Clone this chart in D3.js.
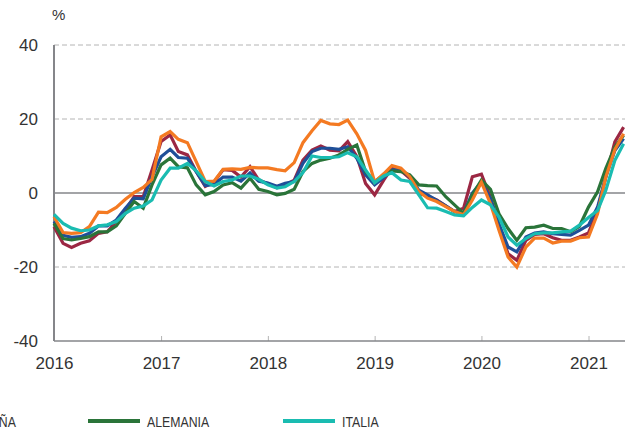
<!DOCTYPE html>
<html>
<head>
<meta charset="utf-8">
<script src="https://cdn.jsdelivr.net/npm/d3@7"></script>
<style>
  body { margin: 0; background: #fff; }
  svg { display: block; }
  text { font-family: "Liberation Sans", Arial, sans-serif; fill: #333; }
</style>
</head>
<body>
<script>
// monthly values, Jan 2016 .. May 2021 (%)
var espana = [-6.4, -10.7, -10.9, -10.7, -9.1, -5.2, -5.3, -3.9, -1.7, 0.1, 1.5, 3.7,
  15.2, 16.6, 14.5, 13.6, 8.5, 3.1, 3.2, 6.4, 6.5, 6.4, 6.9, 6.8,
  6.8, 6.3, 6.0, 8.2, 13.6, 16.8, 19.6, 18.7, 18.5, 19.7, 16.0, 11.5,
  3.0, 5.2, 7.4, 6.7, 4.4, 0.4, -1.4, -2.3, -3.7, -5.0, -5.9, -1.9,
  2.9, -2.9, -10.1, -17.3, -20.0, -14.6, -12.2, -12.2, -13.5, -13.0, -13.0, -12.1,
  -11.9, -5.6, 4.3, 11.7, 16.0];
var alemania = [-8.2, -12.3, -12.7, -12.3, -11.8, -10.5, -10.5, -8.9, -5.5, -2.3, -4.1, 2.2,
  7.6, 9.4, 7.1, 6.8, 2.2, -0.5, 0.4, 2.2, 2.8, 1.3, 4.0, 1.0,
  0.4, -0.5, -0.1, 1.0, 5.8, 8.0, 8.9, 9.4, 10.3, 11.8, 13.0, 5.8,
  3.1, 4.9, 6.0, 5.8, 4.9, 2.2, 2.0, 1.9, -1.0, -3.2, -5.5, -0.5,
  3.5, 1.0, -5.6, -9.6, -12.8, -9.4, -9.2, -8.7, -9.6, -9.6, -10.5, -9.0,
  -3.8, 0.3, 6.6, 12.4, 15.6];
var italia = [-5.8, -8.2, -9.5, -10.2, -10.0, -8.9, -8.6, -7.7, -5.5, -4.1, -3.5, -1.9,
  3.5, 6.7, 6.7, 8.0, 6.0, 3.1, 1.9, 3.1, 3.5, 4.6, 4.6, 3.7,
  2.2, 1.3, 1.7, 3.1, 5.5, 10.0, 9.6, 9.6, 9.8, 10.9, 9.8, 6.2,
  2.8, 4.6, 5.5, 3.5, 3.1, -0.5, -4.0, -4.1, -5.0, -5.9, -6.2, -3.9,
  -1.9, -3.2, -6.5, -11.9, -14.1, -12.3, -11.0, -10.8, -10.8, -10.5, -10.3, -8.7,
  -6.6, -4.7, 0.7, 8.8, 13.3];
var francia = [-7.7, -11.4, -12.0, -11.8, -10.9, -8.9, -8.9, -7.3, -4.1, -1.4, -1.6, 4.4,
  9.8, 11.8, 9.6, 9.4, 5.8, 2.0, 2.3, 4.3, 4.3, 3.2, 5.4, 3.2,
  2.7, 1.8, 2.6, 3.1, 8.0, 11.2, 12.1, 12.1, 11.8, 12.5, 9.4, 4.9,
  2.2, 4.2, 6.2, 6.4, 4.4, 0.8, -0.5, -2.0, -3.5, -5.0, -5.5, 0.0,
  3.0, -1.5, -8.3, -14.6, -15.9, -11.9, -10.8, -10.5, -11.0, -11.2, -11.4, -10.1,
  -8.7, -3.8, 4.3, 11.5, 14.7];
var zonaEuro = [-9.1, -13.6, -14.7, -13.6, -12.9, -10.9, -10.5, -7.7, -4.6, -1.0, -1.0, 6.2,
  13.9, 15.7, 11.2, 10.3, 5.8, 1.8, 3.0, 6.3, 6.1, 4.3, 7.1, 3.5,
  2.5, 1.4, 2.2, 3.5, 8.9, 11.6, 12.7, 11.6, 11.4, 13.9, 9.9, 2.6,
  -0.5, 3.5, 6.7, 6.0, 4.0, -0.1, -0.8, -1.9, -3.5, -5.0, -4.1, 4.4,
  5.1, -1.2, -9.2, -16.4, -18.2, -12.8, -11.2, -11.0, -12.1, -12.8, -12.8, -11.9,
  -10.8, -4.7, 4.3, 13.8, 17.8];

var years = [2016, 2017, 2018, 2019, 2020, 2021];
var yTicks = [-40, -20, 0, 20, 40];

var months = d3.timeMonth.range(new Date(2016, 0, 1), new Date(2021, 5, 1));

var series = [
  {name: "ZONA DEL EURO", values: zonaEuro, color: "#9b2743"},
  {name: "FRANCIA", values: francia, color: "#1f4f98"},
  {name: "ALEMANIA", values: alemania, color: "#2a7439"},
  {name: "ESPAÑA", values: espana, color: "#f47a22"},
  {name: "ITALIA", values: italia, color: "#1abcb1"}
];
var legendOrder = ["ESPAÑA", "ALEMANIA", "ITALIA", "FRANCIA", "ZONA DEL EURO"];

var W = 625, H = 432;
var plotLeft = 54, plotTop = 45, plotBottom = 341;

var svg = d3.select("body").append("svg")
    .attr("width", W)
    .attr("height", H);

var x = d3.scaleTime()
    .domain([new Date(2016, 0, 1), new Date(2021, 0, 1)])
    .range([plotLeft, plotLeft + 5 * 106.9]);
var y = d3.scaleLinear().domain([-40, 40]).range([plotBottom, plotTop]);

// grid
svg.append("g").selectAll("line")
  .data(yTicks.filter(function(d){ return d != -40; }))
  .join("line")
    .attr("x1", plotLeft).attr("x2", W)
    .attr("y1", function(d){ return y(d); })
    .attr("y2", function(d){ return y(d); })
    .attr("stroke", function(d){ return d == 0 ? "#85868a" : "#b4b4b4"; })
    .attr("stroke-width", function(d){ return d == 0 ? 1.6 : 1; })
    .attr("stroke-dasharray", function(d){ return d == 0 ? null : "5,3"; });

// y labels
svg.append("g").selectAll("text")
  .data(yTicks)
  .join("text")
    .attr("x", 38)
    .attr("y", function(d){ return y(d) + 6; })
    .attr("text-anchor", "end")
    .style("font-size", "17px")
    .text(function(d){ return d; });

svg.append("text")
    .attr("x", 52).attr("y", 20)
    .style("font-size", "15px")
    .text("%");

// x axis
var xAxis = d3.axisBottom(x)
    .tickValues(years.map(function(d){ return new Date(d, 0, 1); }))
    .tickFormat(d3.timeFormat("%Y"))
    .tickSize(-5)
    .tickPadding(16);
var gx = svg.append("g")
    .attr("transform", "translate(0," + plotBottom + ")")
    .call(xAxis);
gx.select(".domain").remove();
gx.selectAll(".tick line").attr("stroke", "#b4b4b4");
gx.selectAll(".tick text")
    .style("font-size", "17px")
    .style("font-family", "Liberation Sans, Arial, sans-serif")
    .attr("fill", "#333");
svg.append("line")
    .attr("x1", plotLeft).attr("x2", W)
    .attr("y1", plotBottom).attr("y2", plotBottom)
    .attr("stroke", "#85868a").attr("stroke-width", 1.6);
svg.append("line")
    .attr("x1", plotLeft).attr("x2", plotLeft)
    .attr("y1", plotTop).attr("y2", plotBottom)
    .attr("stroke", "#85868a").attr("stroke-width", 2);

// lines
var line = d3.line()
    .x(function(d, i){ return x(months[i]); })
    .y(function(d){ return y(d); });

svg.append("g").selectAll("path")
  .data(series)
  .join("path")
    .attr("d", function(s){ return line(s.values); })
    .attr("fill", "none")
    .attr("stroke", function(s){ return s.color; })
    .attr("stroke-width", 3.2)
    .attr("stroke-linejoin", "miter");

// legend (first entry and second row fall outside the picture)
var legend = svg.append("g").selectAll("g")
  .data(legendOrder)
  .join("g")
    .attr("transform", function(d, i){
      var col = i % 3;
      var lx = col == 0 ? -92 : -107 + col * 195;
      return "translate(" + lx + "," + (421 + Math.floor(i / 3) * 24) + ")";
    });
legend.append("line")
    .attr("x1", 0).attr("x2", 52)
    .attr("stroke", function(d){ return series.find(function(s){ return s.name == d; }).color; })
    .attr("stroke-width", 4);
legend.append("text")
    .attr("transform", "translate(59,6) scale(0.82,1)")
    .style("font-size", "15px")
    .attr("fill", "#444")
    .text(function(d){ return d; });
</script>
</body>
</html>
